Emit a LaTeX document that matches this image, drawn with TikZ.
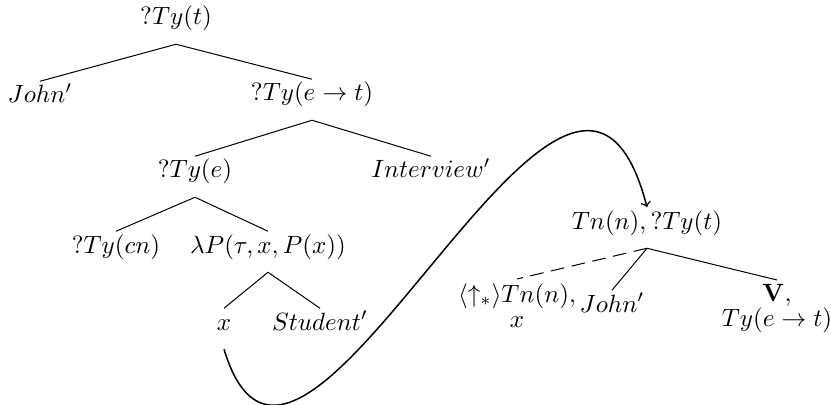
\documentclass[tikz,border=0pt]{standalone}
\usepackage{amsmath}
\begin{document}
\begin{tikzpicture}[x=0.4pt, y=-0.4pt,
    nodo/.style={inner sep=0pt, text height=8.5pt, text depth=7.5pt, anchor=base},
    hoja/.style={inner sep=0pt, inner ysep=1.5pt, align=center, anchor=north}]
    \useasboundingbox (0,0) rectangle (831,405);

    % Arbol de la izquierda
    \node[nodo] (raiz) at (176,25) {$?Ty(t)$};
    \node[nodo] (john) at (40,103) {$John'$};
    \node[nodo] (pred) at (312,101) {$?Ty(e\rightarrow t)$};
    \node[nodo] (tye) at (195,178) {$?Ty(e)$};
    \node[nodo] (interview) at (431,178) {$Interview'$};
    \node[nodo] (tycn) at (116,253) {$?Ty(cn)$};
    \node[nodo] (lambda) at (268,253) {$\lambda P(\tau,x,P(x))$};
    \node[nodo] (x) at (224,330) {$x$};
    \node[nodo] (student) at (320,330) {$Student'$};

    % Ramas
    \draw (raiz.south) -- (john.north);
    \draw (raiz.south) -- (pred.north);
    \draw (pred.south) -- (tye.north);
    \draw (pred.south) -- (interview.north);
    \draw (tye.south) -- (tycn.north);
    \draw (tye.south) -- (lambda.north);
    \draw (lambda.south) -- (x.north);
    \draw (lambda.south) -- (student.north);

    % Arbol de la derecha
    \node[nodo] (tn) at (647,229) {$Tn(n), ?Ty(t)$};
    \node[hoja] (sub) at (517,279) {$\langle\uparrow_*\rangle Tn(n),$\\[-2pt]$x$};
    \node[nodo] (john2) at (612,312) {$John'$};
    \node[hoja] (v) at (777,280) {$\mathbf{V},$\\[-2pt]$Ty(e\rightarrow t)$};

    \draw[dash pattern=on 5.5pt off 3pt] (tn.south) -- (sub.north);
    \draw (tn.south) -- (john2.north);
    \draw (tn.south) -- (v.north);

    % Flecha de x hasta el nodo Tn(n)
    \draw[->, semithick] (x.south) .. controls (300,600) and (570,-90) .. (tn.north);
\end{tikzpicture}
\end{document}
